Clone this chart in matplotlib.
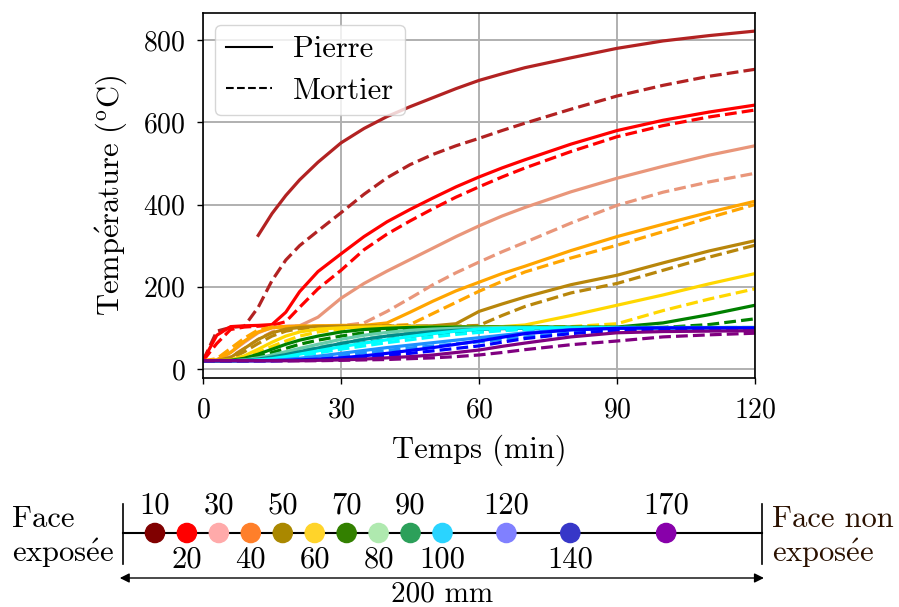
import numpy as np
import matplotlib
matplotlib.use('Agg')
import matplotlib.pyplot as plt
from matplotlib.lines import Line2D

plt.rcParams['font.family'] = ['cmr10', 'DejaVu Serif']
plt.rcParams['mathtext.fontset'] = 'cm'
plt.rcParams['axes.formatter.use_mathtext'] = True
plt.rcParams['font.size'] = 22

nan = np.nan

# time (min)
t_min = [0, 3, 6, 9, 12, 15, 18, 21, 25, 30, 35, 40, 45, 50, 55, 60, 65, 70, 80, 90, 100, 110, 120]

# temperatures (°C) per depth, stone (pierre) and mortar (mortier)
pierre_10 = [nan, nan, nan, nan, 325, 378, 422, 460, 503, 550, 585, 614, 638, 660, 682, 702, 718, 733, 757, 780, 798, 811, 822]
mortier_10 = [20, 92, 101, 104, 150, 215, 265, 300, 336, 380, 425, 465, 497, 522, 543, 561, 580, 598, 632, 664, 690, 712, 729]
pierre_20 = [20, 82, 103, 105, 106, 108, 138, 188, 237, 280, 322, 358, 388, 416, 443, 467, 489, 509, 547, 580, 605, 625, 642]
mortier_20 = [20, 62, 96, 102, 104, 106, 115, 150, 195, 240, 290, 328, 360, 390, 418, 443, 467, 489, 529, 565, 592, 613, 630]
pierre_30 = [20, 22, 40, 65, 88, 101, 104, 105, 126, 172, 208, 238, 266, 294, 322, 348, 372, 393, 431, 464, 493, 520, 543]
mortier_30 = [20, 21, 30, 50, 72, 90, 100, 103, 104, 105, 112, 140, 172, 205, 234, 260, 285, 308, 355, 398, 430, 455, 476]
pierre_40 = [20, 22, 40, 68, 90, 100, 103, 104, 105, 106, 106, 112, 138, 165, 190, 211, 232, 250, 288, 322, 352, 381, 408]
mortier_40 = [20, 25, 50, 75, 95, 102, 103, 104, 104, 105, 105, 105, 108, 135, 162, 189, 213, 236, 270, 301, 334, 368, 400]
pierre_50 = [20, 20, 28, 50, 72, 88, 97, 101, 103, 104, 104, 104, 104, 105, 110, 140, 158, 175, 205, 228, 258, 287, 312]
mortier_50 = [20, 20, 25, 42, 62, 80, 92, 98, 101, 103, 104, 104, 104, 104, 104, 106, 130, 152, 185, 208, 240, 272, 301]
pierre_60 = [20, 20, 22, 32, 48, 65, 80, 90, 97, 100, 102, 103, 103, 103, 103, 103, 103, 107, 130, 155, 180, 207, 232]
mortier_60 = [20, 20, 21, 28, 40, 55, 68, 80, 90, 97, 100, 102, 102, 103, 103, 103, 103, 103, 103, 110, 142, 170, 195]
pierre_70 = [20, 20, 21, 26, 36, 48, 60, 70, 80, 90, 96, 99, 101, 102, 102, 102, 102, 102, 102, 102, 112, 132, 155]
mortier_70 = [20, 20, 20, 23, 30, 40, 50, 60, 70, 80, 88, 94, 98, 100, 101, 101, 101, 101, 101, 101, 101, 108, 122]
pierre_80 = [20, 20, 20, 22, 27, 34, 42, 50, 60, 72, 82, 89, 94, 97, 99, 100, 101, 101, 101, 101, 101, 101, 101]
mortier_80 = [20, 20, 20, 21, 24, 30, 36, 43, 52, 63, 73, 81, 87, 92, 95, 97, 99, 100, 100, 101, 101, 101, 101]
pierre_90 = [20, 20, 20, 21, 24, 29, 35, 42, 51, 62, 72, 80, 86, 91, 94, 96, 98, 99, 100, 100, 100, 100, 100]
mortier_90 = [20, 20, 20, 20, 22, 26, 31, 37, 45, 55, 64, 72, 79, 85, 89, 92, 95, 97, 99, 100, 100, 100, 100]
pierre_100 = [20, 20, 20, 20, 22, 25, 30, 36, 44, 54, 63, 71, 79, 86, 92, 97, 99, 100, 100, 100, 100, 100, 100]
mortier_100 = [20, 20, 20, 20, 21, 23, 27, 32, 39, 48, 56, 64, 71, 78, 84, 89, 93, 96, 99, 100, 100, 100, 100]
pierre_120 = [20, 20, 20, 20, 20, 21, 23, 26, 31, 38, 45, 52, 58, 64, 70, 76, 82, 88, 96, 99, 100, 100, 100]
mortier_120 = [20, 20, 20, 20, 20, 20, 21, 23, 27, 33, 39, 45, 51, 56, 61, 66, 72, 78, 88, 95, 98, 99, 100]
pierre_140 = [20, 20, 20, 20, 20, 20, 21, 22, 24, 27, 32, 38, 45, 52, 60, 68, 77, 86, 95, 99, 100, 100, 100]
mortier_140 = [20, 20, 20, 20, 20, 20, 20, 21, 22, 24, 28, 33, 38, 44, 50, 56, 65, 74, 86, 94, 96, 97, 97]
pierre_170 = [20, 20, 20, 20, 20, 20, 20, 20, 21, 22, 24, 27, 30, 34, 40, 46, 55, 63, 78, 88, 91, 92, 93]
mortier_170 = [20, 20, 20, 20, 20, 20, 20, 20, 20, 21, 22, 23, 25, 27, 30, 34, 40, 47, 59, 68, 78, 83, 87]

positions = [10, 20, 30, 40, 50, 60, 70, 80, 90, 100, 120, 140, 170]
pierre = [pierre_10, pierre_20, pierre_30, pierre_40, pierre_50, pierre_60, pierre_70,
          pierre_80, pierre_90, pierre_100, pierre_120, pierre_140, pierre_170]
mortier = [mortier_10, mortier_20, mortier_30, mortier_40, mortier_50, mortier_60, mortier_70,
           mortier_80, mortier_90, mortier_100, mortier_120, mortier_140, mortier_170]
line_colors = ['firebrick', 'red', 'darksalmon', 'orange', 'darkgoldenrod', 'gold', 'green',
               'mediumaquamarine', 'darkcyan', 'cyan', 'dodgerblue', 'blue', 'purple']
dot_colors = ['#800000', '#ff0000', '#ffaaaa', '#ff7f2a', '#aa8800', '#ffd42a', '#338000',
              '#afe9af', '#2ca05a', '#2ad4ff', '#8080ff', '#3737c8', '#8800aa']

W, H = 899, 607
fig = plt.figure(figsize=(W / 100, H / 100), dpi=100)

# main chart
ax = fig.add_axes([203 / W, 1 - 378 / H, 552 / W, 365 / H])
for p, m, c in zip(pierre, mortier, line_colors):
    ax.plot(t_min, p, color=c, lw=2.3, ls='-')
    ax.plot(t_min, m, color=c, lw=2.3, ls='--')
ax.set_xlim(0, 120)
ax.set_ylim(-22, 866)
ax.set_xticks([0, 30, 60, 90, 120])
ax.set_yticks([0, 200, 400, 600, 800])
ax.grid(True, color='#b0b0b0', lw=1.4)
ax.set_axisbelow(True)
ax.tick_params(labelsize=20, length=4.5, width=1)
ax.tick_params(axis='x', pad=9)
ax.tick_params(axis='y', pad=8)
for s in ax.spines.values():
    s.set_linewidth(1.2)
ax.set_xlabel('Temps (min)', labelpad=8)
ax.set_ylabel(r'$\mathrm{Temp\acute{e}rature\ (^{o}C)}$', labelpad=10)
handles = [Line2D([], [], color='black', lw=1.5, ls='-'),
           Line2D([], [], color='black', lw=1.5, ls='--')]
ax.legend(handles, ['Pierre', 'Mortier'], loc='upper left', fontsize=22,
          handlelength=1.5, borderpad=0.35, labelspacing=0.45, handletextpad=0.7,
          borderaxespad=0.4)

# bottom sketch of the wall, x in mm, y in pixels
ax2 = fig.add_axes([0, 0, 1, 152 / H])
ax2.set_xlim(-123 / 3.195, (W - 123) / 3.195)
ax2.set_ylim(H, H - 152)
ax2.axis('off')
ax2.plot([0, 200], [533, 533], color='black', lw=1.5, zorder=1)
ax2.plot([0, 0], [504, 564], color='black', lw=1.2)
ax2.plot([200, 200], [504, 564], color='black', lw=1.2)
ax2.scatter(positions, [533] * len(positions), s=190, c=dot_colors, zorder=2)
for i, pos in enumerate(positions):
    if i % 2 == 0:
        ax2.text(pos, 513, str(pos), ha='center', va='baseline')
    else:
        ax2.text(pos, 568, str(pos), ha='center', va='baseline')
ax2.text(-34.7, 527, 'Face', ha='left', va='baseline')
ax2.text(-34.7, 562, r'$\mathrm{expos\acute{e}e}$', ha='left', va='baseline')
ax2.text(203.1, 527, 'Face non', ha='left', va='baseline', color='#2b1100')
ax2.text(203.1, 562, r'$\mathrm{expos\acute{e}e}$', ha='left', va='baseline', color='#2b1100')
ax2.annotate('', xy=(-1, 578), xytext=(200.6, 578),
             arrowprops=dict(arrowstyle='<|-|>', color='black', lw=1,
                             shrinkA=0, shrinkB=0, mutation_scale=14))
ax2.text(100, 602, '200 mm', ha='center', va='baseline', fontsize=21)

fig.savefig('out.png', dpi=100)
